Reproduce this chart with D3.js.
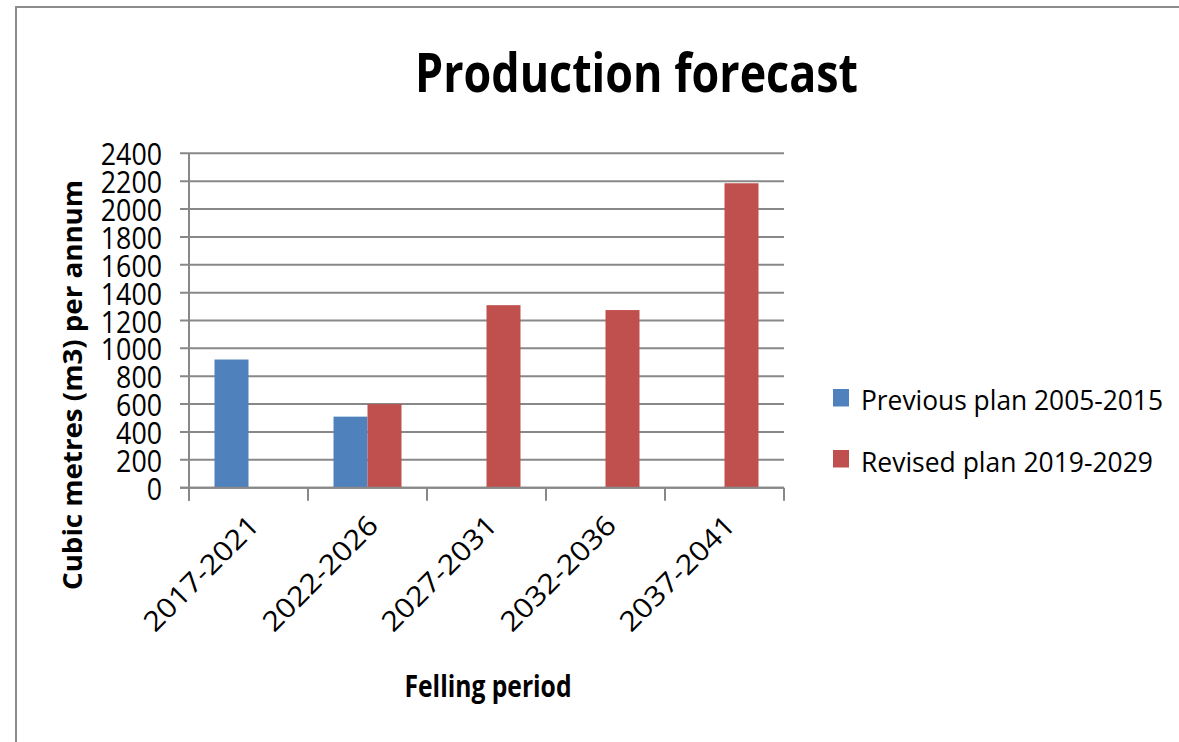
<!DOCTYPE html>
<html>
<head>
<meta charset="utf-8">
<script src="https://cdn.jsdelivr.net/npm/d3@7/dist/d3.min.js"></script>
<style>
  html, body { margin: 0; padding: 0; background: #fff; }
  svg { display: block; }
  text { font-family: "Open Sans", "DejaVu Sans", sans-serif; fill: #000; }
</style>
</head>
<body>
<svg id="chart" width="1179" height="742"></svg>
<script>
// ---- data ----
const categories = ["2017-2021", "2022-2026", "2027-2031", "2032-2036", "2037-2041"];
const seriesNames = ["Previous plan 2005-2015", "Revised plan 2019-2029"];
const previousPlan = [920, 510, null, null, null];
const revisedPlan = [null, 600, 1310, 1275, 2185];
const yTicks = [0, 200, 400, 600, 800, 1000, 1200, 1400, 1600, 1800, 2000, 2200, 2400];
const colors = ["#4F81BD", "#C0504D"];
const titleText = "Production forecast";
const yTitle = "Cubic metres (m3) per annum";
const xTitle = "Felling period";

const svg = d3.select("#chart");
const plot = { left: 189, right: 784, top: 153.3, bottom: 487.7 };

// outer border
svg.append("rect").attr("x", 16).attr("y", 7).attr("width", 1300).attr("height", 900)
  .attr("fill", "none").attr("stroke", "#8c8c8c").attr("stroke-width", 2);

// title
svg.append("text").attr("x", 415).attr("y", 91.7)
  .attr("font-size", 54.6).attr("font-weight", 700)
  .attr("textLength", 443).attr("lengthAdjust", "spacingAndGlyphs")
  .text(titleText);

const y = d3.scaleLinear().domain([0, 2400]).range([plot.bottom, plot.top]);
const x = d3.scaleBand().domain(categories).range([plot.left, plot.right]).padding(0);
const xSub = d3.scaleBand().domain(seriesNames).range([0, x.bandwidth()])
  .paddingInner(0).paddingOuter(0.75);

// gridlines + y tick marks
svg.append("g").selectAll("line").data(yTicks).join("line")
  .attr("x1", plot.left - 9).attr("x2", plot.right)
  .attr("y1", d => y(d)).attr("y2", d => y(d))
  .attr("stroke", "#888").attr("stroke-width", 2);

// y tick labels
svg.append("g").selectAll("text").data(yTicks).join("text")
  .attr("x", 162).attr("y", d => y(d) + 12)
  .attr("text-anchor", "end")
  .attr("font-size", 30.5)
  .attr("textLength", d => String(d).length * 15.3)
  .attr("lengthAdjust", "spacingAndGlyphs")
  .text(d => d);

// bars
const seriesData = [previousPlan, revisedPlan];
seriesData.forEach((vals, si) => {
  svg.append("g").selectAll("rect")
    .data(categories.map((c, i) => ({ c, v: vals[i] })).filter(d => d.v != null))
    .join("rect")
    .attr("x", d => x(d.c) + xSub(seriesNames[si]))
    .attr("width", xSub.bandwidth())
    .attr("y", d => y(d.v))
    .attr("height", d => y(0) - y(d.v))
    .attr("fill", colors[si]);
});

// axes lines
svg.append("line").attr("x1", plot.left).attr("x2", plot.left)
  .attr("y1", plot.top).attr("y2", plot.bottom + 13)
  .attr("stroke", "#888").attr("stroke-width", 2);
svg.append("line").attr("x1", plot.left - 9).attr("x2", plot.right)
  .attr("y1", plot.bottom).attr("y2", plot.bottom)
  .attr("stroke", "#888").attr("stroke-width", 2);
const boundaries = categories.map(c => x(c)).concat([x(categories[categories.length - 1]) + x.bandwidth()]);
svg.append("g").selectAll("line").data(boundaries).join("line")
  .attr("x1", d => d).attr("x2", d => d)
  .attr("y1", plot.bottom).attr("y2", plot.bottom + 13)
  .attr("stroke", "#888").attr("stroke-width", 2);

// x tick labels rotated
svg.append("g").selectAll("text").data(categories).join("text")
  .attr("transform", d => `translate(${x(d) + x.bandwidth() / 2 + 12.5},${plot.bottom + 39.5}) rotate(-45)`)
  .attr("text-anchor", "end")
  .attr("font-size", 27.5)
  .attr("textLength", 150)
  .attr("lengthAdjust", "spacingAndGlyphs")
  .text(d => d);

// axis titles
svg.append("text").attr("x", 488).attr("y", 696.7)
  .attr("text-anchor", "middle").attr("font-size", 30.4).attr("font-weight", 700)
  .attr("textLength", 167).attr("lengthAdjust", "spacingAndGlyphs")
  .text(xTitle);
svg.append("text").attr("transform", "translate(82,385) rotate(-90)")
  .attr("text-anchor", "middle").attr("font-size", 26.6).attr("font-weight", 700)
  .attr("textLength", 410).attr("lengthAdjust", "spacingAndGlyphs")
  .text(yTitle);

// legend
const legendY = [389, 450];
const legendBase = [410, 471.7];
const legendLen = [302, 292];
seriesNames.forEach((name, i) => {
  svg.append("rect").attr("x", 833).attr("y", legendY[i]).attr("width", 16).attr("height", 17.5)
    .attr("fill", colors[i]);
  svg.append("text").attr("x", 861).attr("y", legendBase[i])
    .attr("font-size", 27)
    .attr("textLength", legendLen[i]).attr("lengthAdjust", "spacingAndGlyphs")
    .text(name);
});
</script>
</body>
</html>
